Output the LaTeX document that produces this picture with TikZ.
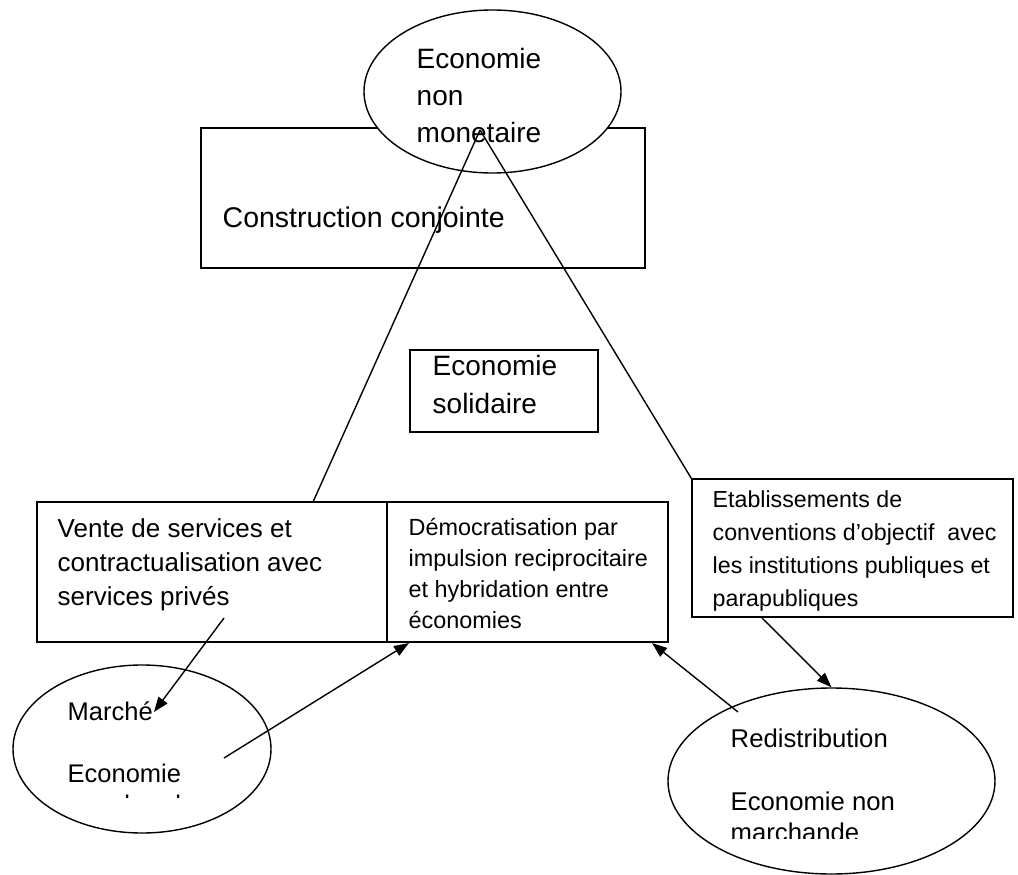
\documentclass[tikz,border=0pt]{standalone}
\usepackage{fontspec}
\setmainfont{Liberation Sans}
\usetikzlibrary{arrows.meta,shapes.geometric}
\newcommand\txtl[3]{\fontsize{#1}{#2}\selectfont\begin{tabular}[t]{@{}l@{}}#3\end{tabular}}
\begin{document}
\begin{tikzpicture}[x=1pt,y=-1pt,line width=1.4pt,
  boxx/.style={draw,rectangle,inner sep=0pt,fill=white},
  ell/.style={draw,ellipse,inner sep=0pt,fill=white},
  lbl/.style={anchor=base west,inner sep=0pt},
  arr/.style={-{Triangle[length=15pt,width=11pt]}}]
\useasboundingbox (0,0) rectangle (1018,875);
% boxes
\node[boxx,minimum width=444pt,minimum height=140pt] (cons) at (423,198) {};
\node[ell,minimum width=257pt,minimum height=163pt] (top) at (492.5,91.5) {};
\node[boxx,minimum width=188pt,minimum height=82pt] (sol) at (504,391) {};
\node[boxx,minimum width=350pt,minimum height=140pt] (vente) at (212,572) {};
\node[boxx,minimum width=281pt,minimum height=140pt] (democ) at (527.5,572) {};
\node[boxx,minimum width=321pt,minimum height=138pt] (etab) at (852.5,548) {};
\node[ell,minimum width=258pt,minimum height=168pt] (marche) at (142,749) {};
\node[ell,minimum width=327pt,minimum height=186pt] (redis) at (831.5,781) {};
% texts
\node[lbl] (ttop) at (416,69) {\txtl{28}{37}{Economie\\non\\monetaire}};
\node[lbl] (tcons) at (222,227) {\txtl{28.5}{37}{Construction conjointe}};
\node[lbl] (tsol) at (432,375) {\txtl{28}{38}{Economie\\solidaire}};
\node[lbl] (tvente) at (57,537) {\txtl{26}{34}{Vente de services et\\contractualisation avec\\services privés}};
\node[lbl] (tdemoc) at (408,535) {\txtl{23.4}{31}{Démocratisation par\\impulsion reciprocitaire\\et hybridation entre\\économies}};
\node[lbl] (tetab) at (712,507) {\txtl{23.2}{33}{Etablissements de\\conventions d’objectif\ \ avec\\les institutions publiques et\\parapubliques}};
\begin{scope}
\clip (0,0) rectangle (1018,797.5);
\node[lbl] (tmarche) at (67,720) {\txtl{25.5}{31}{Marché\\ \\Economie\\marchande}};
\end{scope}
\begin{scope}
\clip (0,0) rectangle (1018,838);
\node[lbl] (tredis) at (730,747) {\txtl{25.7}{31.5}{Redistribution\\ \\Economie non\\marchande}};
\end{scope}
% connectors
\coordinate (apex) at (480,130);
\coordinate (ventetop) at (313,502);
\draw (apex) -- (ventetop);
\draw (apex) -- (etab.north west);
\coordinate (a1s) at (224,618);
\coordinate (a1e) at (154,712);
\draw[arr] (a1s) -- (a1e);
\coordinate (a2s) at (224,758);
\coordinate (a2e) at (409,643);
\draw[arr] (a2s) -- (a2e);
\coordinate (a3s) at (738,712);
\coordinate (a3e) at (652,643);
\draw[arr] (a3s) -- (a3e);
\coordinate (a4s) at (762,618);
\draw[arr] (a4s) -- (redis.north);
\end{tikzpicture}
\end{document}
